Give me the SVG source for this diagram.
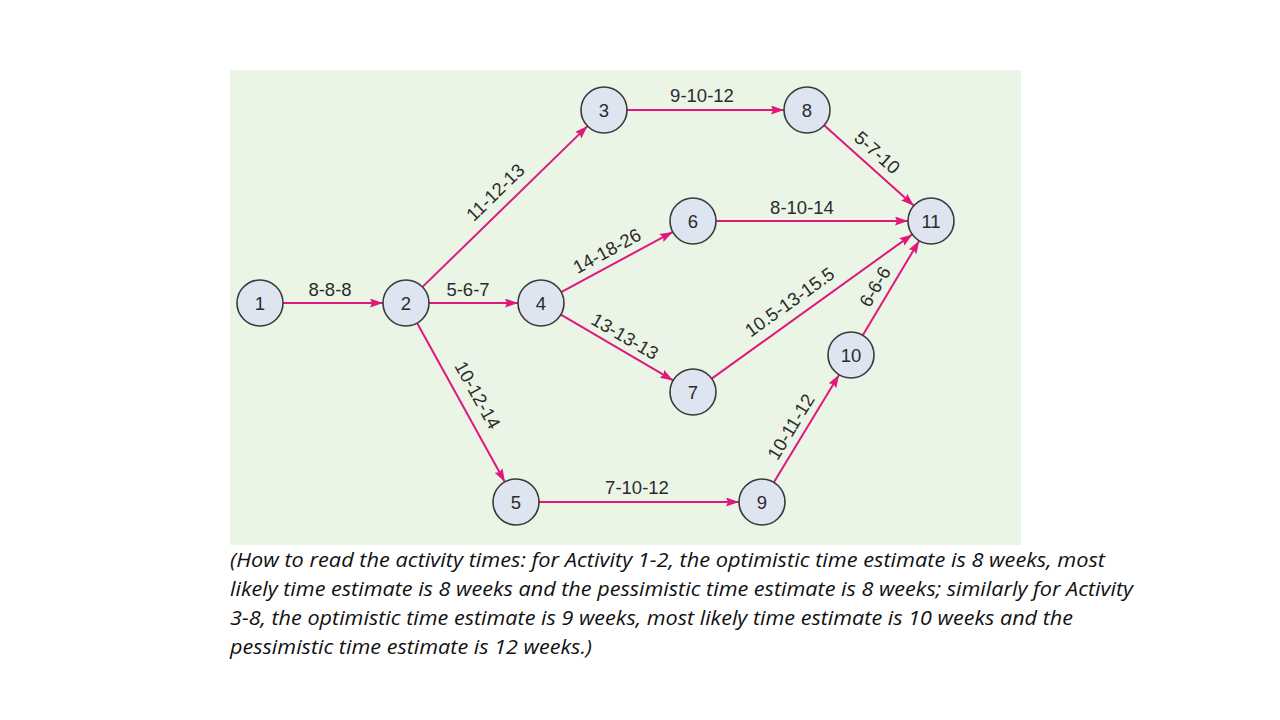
<svg xmlns="http://www.w3.org/2000/svg" width="1280" height="720" viewBox="0 0 1280 720">
<defs>
<marker id="ah" markerUnits="userSpaceOnUse" markerWidth="14" markerHeight="10" refX="13" refY="4.5" orient="auto">
<path d="M0,0 L13,4.5 L0,9 L2,4.5 z" fill="#e0187c"/>
</marker>
</defs>
<style>
.edge{stroke:#e0187c;stroke-width:2;fill:none;marker-end:url(#ah)}
.node circle{fill:#dfe4f1;stroke:#3a3a3a;stroke-width:1.6}
.node text{font-family:"Liberation Sans",Arial,sans-serif;font-size:18.5px;fill:#2b2b2b;text-anchor:middle}
.lbl{font-family:"Liberation Sans",Arial,sans-serif;font-size:18.5px;fill:#2b2b2b;text-anchor:middle}
.cap{font-family:"Open Sans","Liberation Sans",sans-serif;font-style:italic;font-size:20px;fill:#111}
</style>
<rect x="0" y="0" width="1280" height="720" fill="#ffffff"/>
<rect x="230" y="70" width="791" height="475" fill="#ebf5e6"/>
<g id="connectors">
<line class="edge" x1="283" y1="303" x2="383" y2="303"/>
<line class="edge" x1="429" y1="303" x2="518" y2="303"/>
<line class="edge" x1="422.5" y1="286.9" x2="587.5" y2="126.1"/>
<line class="edge" x1="417.1" y1="323.1" x2="504.9" y2="481.9"/>
<line class="edge" x1="561.2" y1="292.1" x2="672.8" y2="231.9"/>
<line class="edge" x1="560.9" y1="314.6" x2="673.1" y2="380.4"/>
<line class="edge" x1="627" y1="110" x2="784" y2="110"/>
<line class="edge" x1="716" y1="221" x2="908" y2="221"/>
<line class="edge" x1="824.1" y1="125.3" x2="913.9" y2="205.7"/>
<line class="edge" x1="711.7" y1="378.6" x2="912.3" y2="234.4"/>
<line class="edge" x1="539" y1="502" x2="739" y2="502"/>
<line class="edge" x1="773.9" y1="482.3" x2="839.1" y2="374.7"/>
<line class="edge" x1="862.8" y1="335.3" x2="919.2" y2="240.7"/>
<text class="lbl" x="330" y="296">8-8-8</text>
<text class="lbl" x="468" y="296">5-6-7</text>
<text class="lbl" x="702" y="102">9-10-12</text>
<text class="lbl" x="802" y="214">8-10-14</text>
<text class="lbl" x="637" y="494">7-10-12</text>
<text class="lbl" transform="translate(497,194) rotate(-44.3)" x="0" y="4">11-12-13</text>
<text class="lbl" transform="translate(608,253) rotate(-28.6)" x="0" y="4">14-18-26</text>
<text class="lbl" transform="translate(624,338) rotate(30.3)" x="0" y="4.5">13-13-13</text>
<text class="lbl" transform="translate(476,396) rotate(61)" x="0" y="4.5">10-12-14</text>
<text class="lbl" transform="translate(791,304) rotate(-35.7)" x="0" y="4">10.5-13-15.5</text>
<text class="lbl" transform="translate(876,154) rotate(41.8)" x="0" y="4.5">5-7-10</text>
<text class="lbl" transform="translate(877,288) rotate(-59.2)" x="0" y="4">6-6-6</text>
<text class="lbl" transform="translate(793,428) rotate(-58.8)" x="0" y="4">10-11-12</text>
</g>
<g id="node1" class="node"><circle cx="260" cy="303" r="23"/><text x="260" y="309.5">1</text></g>
<g id="node2" class="node"><circle cx="406" cy="303" r="23"/><text x="406" y="309.5">2</text></g>
<g id="node3" class="node"><circle cx="604" cy="110" r="23"/><text x="604" y="116.5">3</text></g>
<g id="node4" class="node"><circle cx="541" cy="303" r="23"/><text x="541" y="309.5">4</text></g>
<g id="node5" class="node"><circle cx="516" cy="502" r="23"/><text x="516" y="508.5">5</text></g>
<g id="node6" class="node"><circle cx="693" cy="221" r="23"/><text x="693" y="227.5">6</text></g>
<g id="node7" class="node"><circle cx="693" cy="392" r="23"/><text x="693" y="398.5">7</text></g>
<g id="node8" class="node"><circle cx="807" cy="110" r="23"/><text x="807" y="116.5">8</text></g>
<g id="node9" class="node"><circle cx="762" cy="502" r="23"/><text x="762" y="508.5">9</text></g>
<g id="node10" class="node"><circle cx="851" cy="355" r="23"/><text x="851" y="361.5">10</text></g>
<g id="node11" class="node"><circle cx="931" cy="221" r="23"/><text x="931" y="227.5">11</text></g>
<g id="caption">
<text class="cap" x="230" y="567" textLength="875" lengthAdjust="spacingAndGlyphs">(How to read the activity times: for Activity 1-2, the optimistic time estimate is 8 weeks, most</text>
<text class="cap" x="230" y="596" textLength="903" lengthAdjust="spacingAndGlyphs">likely time estimate is 8 weeks and the pessimistic time estimate is 8 weeks; similarly for Activity</text>
<text class="cap" x="230" y="625" textLength="843" lengthAdjust="spacingAndGlyphs">3-8, the optimistic time estimate is 9 weeks, most likely time estimate is 10 weeks and the</text>
<text class="cap" x="230" y="654" textLength="362" lengthAdjust="spacingAndGlyphs">pessimistic time estimate is 12 weeks.)</text>
</g>
</svg>
